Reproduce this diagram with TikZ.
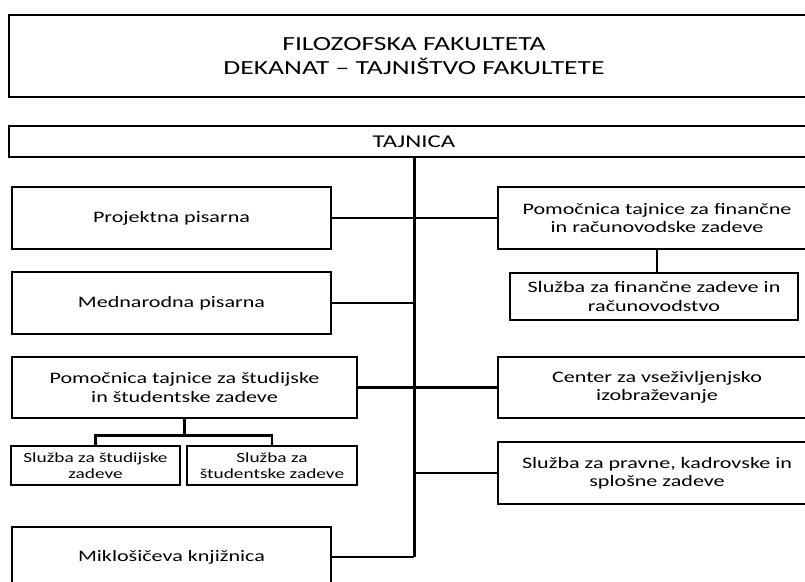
\documentclass[tikz,border=0pt]{standalone}
\usepackage{fontspec}
\setmainfont{Carlito}[FakeStretch=1.38]
\newcommand{\titlefont}{\fontsize{20}{23.5}\selectfont}
\newcommand{\tajfont}{\fontsize{18}{20}\selectfont}
\newcommand{\bodyfont}{\fontsize{16}{18.5}\selectfont}
\newcommand{\smallbodyfont}{\fontsize{14}{15.5}\selectfont}
\begin{document}
\begin{tikzpicture}[x=1pt,y=-1pt,
  box/.style={draw, line width=2.7pt, inner sep=0pt, align=center, font=\bodyfont},
  conn/.style={line width=2.3pt},
  trunk/.style={line width=3pt}]
\useasboundingbox (0,0) rectangle (805,581);
\clip (0,0) rectangle (805,581);
\fill[white] (0,0) rectangle (805,581);
% header boxes
\node[box, font=\titlefont, minimum width=810pt, minimum height=82pt] (fak) at (414,56)
  {FILOZOFSKA FAKULTETA\\DEKANAT -- TAJNIŠTVO FAKULTETE};
\node[box, font=\tajfont, minimum width=810pt, minimum height=31pt] (taj) at (414,141.5) {TAJNICA};
% left column
\node[box, minimum width=319pt, minimum height=62pt] (proj) at (171.5,218) {Projektna pisarna};
\node[box, minimum width=319pt, minimum height=62pt] (med) at (171.5,303) {Mednarodna pisarna};
\node[box, minimum width=345pt, minimum height=61pt] (pstud) at (184.5,387.5)
  {Pomočnica tajnice za študijske\\in študentske zadeve};
\node[box, font=\smallbodyfont, minimum width=169pt, minimum height=39pt] (sstud) at (95.5,465.5)
  {Služba za študijske\\zadeve};
\node[box, font=\smallbodyfont, minimum width=170pt, minimum height=39pt] (sstudent) at (272,465.5)
  {Služba za\\študentske zadeve};
\node[box, minimum width=319pt, minimum height=60pt] (mik) at (171.5,557) {Miklošičeva knjižnica};
% right column
\node[box, minimum width=318pt, minimum height=62pt] (pfin) at (657,218)
  {Pomočnica tajnice za finančne\\in računovodske zadeve};
\node[box, minimum width=288pt, minimum height=47pt] (sfin) at (654,296.5)
  {Služba za finančne zadeve in\\računovodstvo};
\node[box, minimum width=318pt, minimum height=61pt] (cvz) at (657,387.5)
  {Center za vseživljenjsko\\izobraževanje};
\node[box, minimum width=318pt, minimum height=62pt] (prav) at (657,473)
  {Služba za pravne, kadrovske in\\splošne zadeve};
% connectors
\coordinate (tend) at (414,557);
\draw[trunk] (taj.south) -- (tend);
\draw[conn] (proj.east) -- (pfin.west);
\draw[conn] (med.east) -- (med.east -| tend);
\draw[conn] (pstud.east) -- (cvz.west);
\draw[conn] (prav.west) -- (prav.west -| tend);
\draw[conn] (mik.east) -- (tend);
\draw[conn] (pfin.south) -- (pfin.south |- sfin.north);
\path (pstud.south) ++(0,16) coordinate (sj);
\draw[conn] (pstud.south) -- (sj);
\draw[conn] (sj) -| (sstud.north);
\draw[conn] (sj) -| (sstudent.north);
\end{tikzpicture}
\end{document}
